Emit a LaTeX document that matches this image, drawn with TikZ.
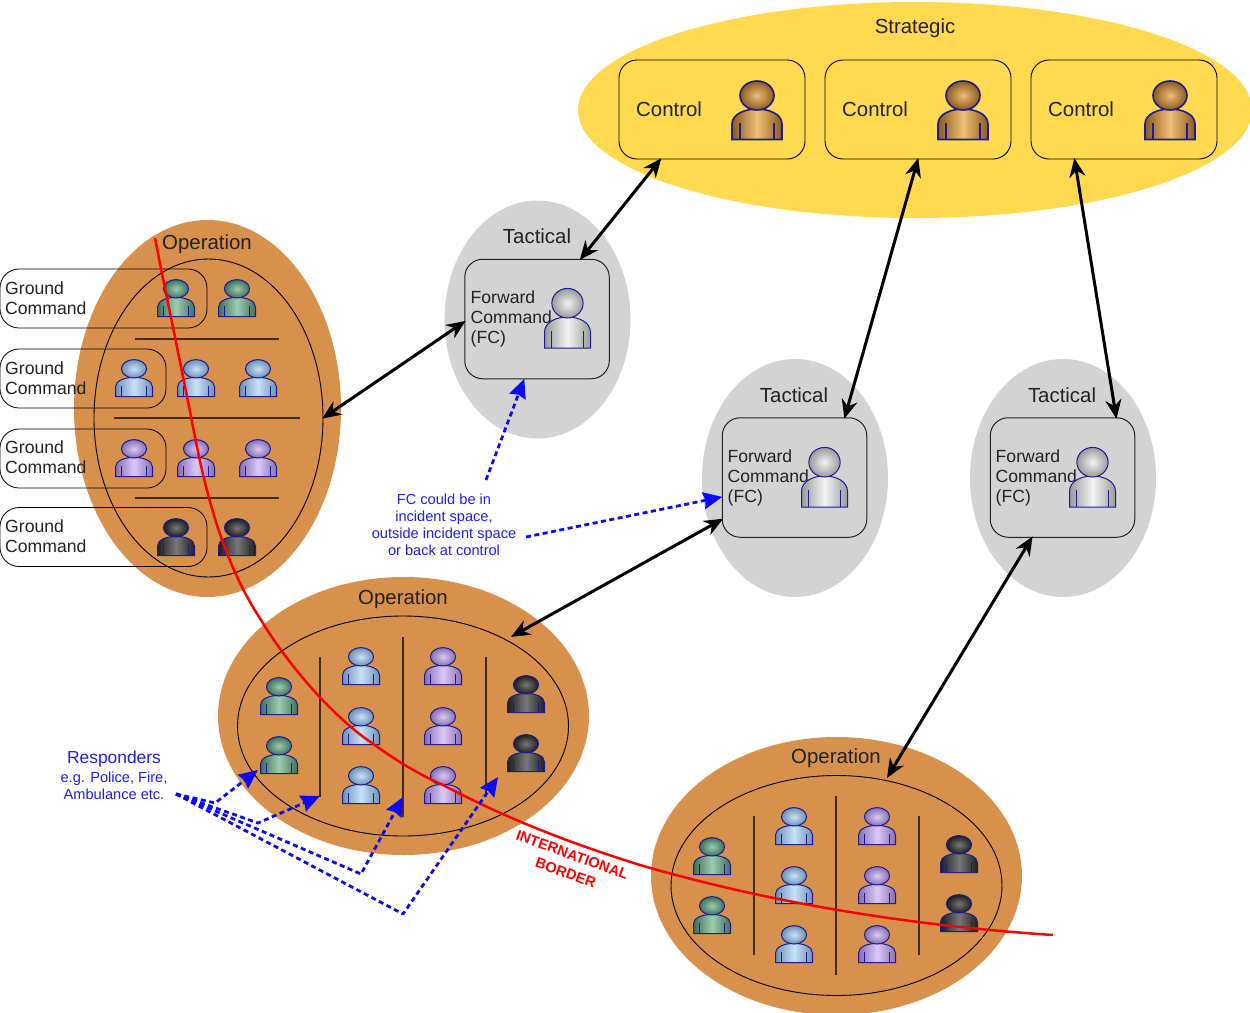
\documentclass[tikz,border=0pt]{standalone}
\usepackage{fontspec}
\setmainfont{Liberation Sans}
\usetikzlibrary{shapes.geometric,arrows.meta}
\definecolor{stratY}{HTML}{FFDA50}
\definecolor{tacG}{HTML}{D3D3D3}
\definecolor{opO}{HTML}{D8914C}
\definecolor{navyL}{HTML}{1C1C90}
\definecolor{ink}{HTML}{222222}
\definecolor{noteB}{HTML}{1E1EF0}
\definecolor{dashB}{HTML}{0A0AF5}
\definecolor{orD}{HTML}{8B5A1E}\definecolor{orL}{HTML}{F0BE78}
\definecolor{grD}{HTML}{9A9A9A}\definecolor{grL}{HTML}{F4F4F4}
\definecolor{geD}{HTML}{3F6F5A}\definecolor{geL}{HTML}{9CCDB0}
\definecolor{blD}{HTML}{6D90B4}\definecolor{blL}{HTML}{C8E2F8}
\definecolor{puD}{HTML}{8570B0}\definecolor{puL}{HTML}{DCC8F8}
\definecolor{bkD}{HTML}{1E1E1E}\definecolor{bkL}{HTML}{787878}
\tikzset{
  pics/person/.style n args={3}{code={
    \shade[draw=navyL,line width=#3,left color=#1,right color=#1,middle color=#2]
      (-25,29.5) -- (-25,14) .. controls (-25,4) and (-12,-1) .. (0,-1)
      .. controls (12,-1) and (25,4) .. (25,14) -- (25,29.5) -- cycle;
    \draw[navyL,line width=#3] (-17,29.5) -- (-17,13) (17,29.5) -- (17,13);
    \shade[draw=navyL,line width=#3,inner color=#2,outer color=#1]
      (0,-14.5) ellipse [x radius=17,y radius=14.5];
  }},
  smallp/.style={xscale=.74,yscale=.635},
  fcp/.style={xscale=.92,yscale=1.02},
  oval/.style={shape=ellipse,inner sep=0pt,outer sep=0pt},
  outerS/.style={oval,fill=stratY,minimum width=674pt,minimum height=216pt},
  outerT/.style={oval,fill=tacG,minimum width=186pt,minimum height=238pt},
  outerOV/.style={oval,fill=opO,minimum width=267pt,minimum height=377pt},
  outerOH/.style={oval,fill=opO,minimum width=371pt,minimum height=278pt},
  innerV/.style={oval,draw=black,line width=.9pt,minimum width=229pt,minimum height=318pt},
  innerH/.style={oval,draw=black,line width=.9pt,minimum width=331pt,minimum height=220pt},
  ctrlbox/.style={shape=rectangle,draw=black,line width=.9pt,rounded corners=18pt,minimum width=186pt,minimum height=99pt,inner sep=0pt,outer sep=0pt},
  fcbox/.style={shape=rectangle,draw=ink,line width=1pt,rounded corners=18pt,minimum width=144.5pt,minimum height=119.5pt,inner sep=0pt,outer sep=0pt},
  gcbox/.style={shape=rectangle,draw=black,line width=.8pt,rounded corners=19pt,anchor=west,minimum height=59pt,inner sep=0pt,outer sep=0pt},
  big/.style={font=\fontsize{20.4}{24}\selectfont,text=ink,inner sep=0pt},
  mid/.style={font=\fontsize{17.6}{20.2}\selectfont,text=ink,align=left,anchor=west,inner sep=0pt},
  notetxt/.style={font=\fontsize{14.6}{17}\selectfont,text=noteB,align=center,inner sep=0pt},
  sep/.style={draw=black!70!opO,line width=1.1pt},
  biarrow/.style={draw=black,line width=3pt,{Stealth[length=19pt,width=16pt]}-{Stealth[length=19pt,width=16pt]},shorten <=-1pt,shorten >=-1pt},
  dasharrow/.style={draw=dashB,line width=2.8pt,dash pattern=on 5pt off 3.5pt,line join=round,-{Stealth[length=19pt,width=17pt,inset=2pt]}},
}
\begin{document}
\begin{tikzpicture}[x=1pt,y=-1pt]
\useasboundingbox (0,0) rectangle (1250,1012);
\clip (0,0) rectangle (1250,1012);
% Strategic
\node[outerS] (strat) at (915,110) {};
\node[big] (stratT) at (915,28) {Strategic};
\node[ctrlbox] (c1) at (712,109.5) {};
\node[ctrlbox] (c2) at (918,109.5) {};
\node[ctrlbox] (c3) at (1124,109.5) {};
\foreach \n/\bx/\tx in {a/757/636,b/963/842,c/1170/1048}{
  \node[big,anchor=west] (ctrl\n) at (\tx,109) {Control};
  \pic at (\bx,110) {person={orD}{orL}{1.6pt}};
}
% Tactical
\node[outerT] (tac1) at (537.5,319.5) {};
\node[outerT] (tac2) at (795,478) {};
\node[outerT] (tac3) at (1063,478) {};
\node[big] (tac1T) at (537,236) {Tactical};
\node[big] (tac2T) at (794,395) {Tactical};
\node[big] (tac3T) at (1062,395) {Tactical};
\node[fcbox] (t1) at (537,319) {};
\node[fcbox] (t2) at (794.5,477.5) {};
\node[fcbox] (t3) at (1062.5,477.5) {};
\node[mid] (f1) at (470.5,319) {Forward\\Command\\(FC)};
\node[mid] (f2) at (727.5,478) {Forward\\Command\\(FC)};
\node[mid] (f3) at (995.5,478) {Forward\\Command\\(FC)};
\pic[fcp] at (567.5,318) {person={grD}{grL}{1pt}};
\pic[fcp] at (824.5,477) {person={grD}{grL}{1pt}};
\pic[fcp] at (1092.5,477) {person={grD}{grL}{1pt}};
% Operation A
\node[outerOV] (opA) at (207.5,408.5) {};
\node[innerV] (inA) at (208.5,418) {};
\node[big] (opAT) at (207,244) {Operation};
\draw[sep] (135,339) -- (279,339) (114,418) -- (300,418) (135,498) -- (279,498);
\foreach \px/\py in {176/298,237/298}{\pic[smallp] at (\px,\py) {person={geD}{geL}{1pt}};}
\foreach \px/\py in {134/378,196/378,258/378}{\pic[smallp] at (\px,\py) {person={blD}{blL}{1pt}};}
\foreach \px/\py in {134/458,196/458,258/458}{\pic[smallp] at (\px,\py) {person={puD}{puL}{1pt}};}
\foreach \px/\py in {176/537,237/537}{\pic[smallp] at (\px,\py) {person={bkD}{bkL}{1pt}};}
\node[gcbox,minimum width=207pt] (g1) at (0,298.5) {};
\node[gcbox,minimum width=166pt] (g2) at (0,378.5) {};
\node[gcbox,minimum width=166pt] (g3) at (0,458.5) {};
\node[gcbox,minimum width=207pt] (g4) at (0,537) {};
\node[mid] (g1T) at (5,298) {Ground\\Command};
\node[mid] (g2T) at (5,378) {Ground\\Command};
\node[mid] (g3T) at (5,457.5) {Ground\\Command};
\node[mid] (g4T) at (5,536) {Ground\\Command};
% Operation B
\node[outerOH] (opB) at (403.5,716) {};
\node[innerH] (inB) at (403,726) {};
\node[big] (opBT) at (403,599) {Operation};
\draw[sep] (320,657) -- (320,797) (403,637) -- (403,817) (486,657) -- (486,797);
\foreach \px/\py in {279/696,279/755}{\pic[smallp] at (\px,\py) {person={geD}{geL}{1pt}};}
\foreach \px/\py in {361/666,361/726,361/785}{\pic[smallp] at (\px,\py) {person={blD}{blL}{1pt}};}
\foreach \px/\py in {443/666,443/726,443/785}{\pic[smallp] at (\px,\py) {person={puD}{puL}{1pt}};}
\foreach \px/\py in {526/694,526/753}{\pic[smallp] at (\px,\py) {person={bkD}{bkL}{1pt}};}
% Operation C
\node[outerOH] (opC) at (836.5,876) {};
\node[innerH] (inC) at (836.5,885.5) {};
\node[big] (opCT) at (836,758) {Operation};
\draw[sep] (754,816) -- (754,955) (836,796) -- (836,975) (919,816) -- (919,955);
\foreach \px/\py in {712/856,712/915}{\pic[smallp] at (\px,\py) {person={geD}{geL}{1pt}};}
\foreach \px/\py in {794/826,794/885,794/944}{\pic[smallp] at (\px,\py) {person={blD}{blL}{1pt}};}
\foreach \px/\py in {877/826,877/885,877/944}{\pic[smallp] at (\px,\py) {person={puD}{puL}{1pt}};}
\foreach \px/\py in {959/854,959/913}{\pic[smallp] at (\px,\py) {person={bkD}{bkL}{1pt}};}
% Border
\draw[red,line width=2.5pt] (155,238)
  .. controls (165,290) and (178,350) .. (197,447)
  .. controls (210,510) and (228,570) .. (261,620)
  .. controls (285,660) and (330,715) .. (372,743)
  .. controls (395,760) and (420,775) .. (443,785)
  .. controls (500,815) and (560,840) .. (640,865)
  .. controls (760,900) and (900,925) .. (1053,935);
\node[font=\bfseries\fontsize{14.6}{19}\selectfont,text=red,align=center,rotate=-20,inner sep=0pt] (border) at (569,864) {INTERNATIONAL\\BORDER};
% Control links
\draw[biarrow] (c1.224.2) -- (t1.54.4);
\draw[biarrow] (c2.270) -- (t2.50.8);
\draw[biarrow] (c3.225.3) -- (t3.48.6);
\draw[biarrow] (t1.182.4) -- (inA.0);
\draw[biarrow,shorten >=6pt] (t2.210.4) -- (inB.40.4);
\draw[biarrow,shorten >=3pt] (t3.243.2) -- (inC.65.3);
% Notes
\node[notetxt] (note) at (444,525) {FC could be in\\incident space,\\outside incident space\\or back at control};
\coordinate (noteA) at (486,480);
\coordinate (noteB) at (526,537);
\draw[dasharrow] (noteA) -- (t1.258.7);
\draw[dasharrow] (noteB) -- (t2.195.8);
\node[font=\fontsize{17.4}{20}\selectfont,text=noteB,inner sep=0pt] (resp) at (114,759) {Responders};
\node[notetxt] (respS) at (114,785.5) {e.g. Police, Fire,\\Ambulance etc.};
\coordinate (ro) at (176,794);
\coordinate (b1) at (215,803);
\coordinate (b2) at (258,823);
\coordinate (b3) at (361,874);
\coordinate (b4) at (403,914);
\coordinate (e1) at (258,770);
\coordinate (e2) at (320,796);
\coordinate (e3) at (403,797);
\coordinate (e4) at (498,777);
\draw[dasharrow] (ro) -- (b1) -- (e1);
\draw[dasharrow] (ro) -- (b2) -- (e2);
\draw[dasharrow] (ro) -- (b3) -- (e3);
\draw[dasharrow] (ro) -- (b4) -- (e4);
\end{tikzpicture}
\end{document}
